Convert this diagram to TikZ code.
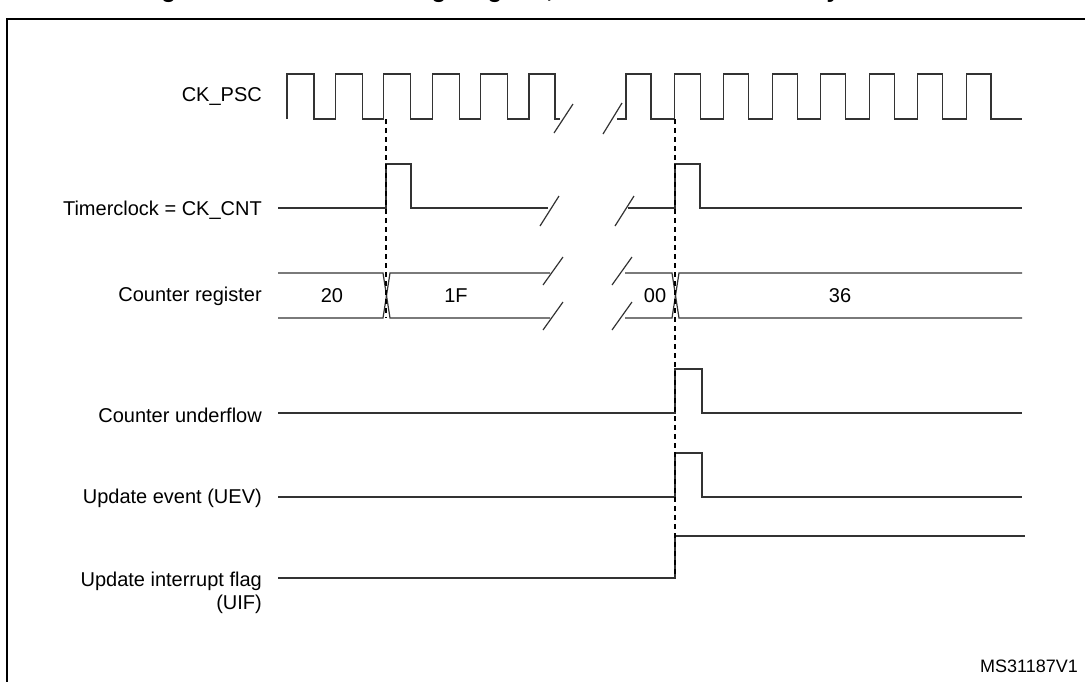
\documentclass[tikz,border=0pt]{standalone}
\usepackage{fontspec}
\setmainfont{Liberation Sans}
\begin{document}
\begin{tikzpicture}[x=1pt,y=-1pt,
  sig/.style={line width=1.2pt,black!80},
  guide/.style={line width=1.1pt,dash pattern=on 5pt off 4pt},
  lbl/.style={anchor=east,font=\fontsize{20}{23}\selectfont,inner sep=0pt},
  val/.style={font=\fontsize{20}{23}\selectfont,inner sep=0pt}]
\useasboundingbox (0,0) rectangle (1085,681);
\node[anchor=base,font=\bfseries\fontsize{24}{26}\selectfont,inner sep=0pt] (title) at (500,-3) {Figure 135. Counter timing diagram, internal clock divided by 1};
\draw[line width=2pt] (7,700) -- (7,19) -- (1100,19);
% labels
\node[lbl] (l1) at (262,97) {CK\_PSC};
\node[lbl] (l2) at (262,210) {Timerclock = CK\_CNT};
\node[lbl] (l3) at (262,296) {Counter register};
\node[lbl] (l4) at (262,415) {Counter underflow};
\node[lbl] (l5) at (262,498) {Update event (UEV)};
\node[lbl,align=right] (l6) at (262,593) {Update interrupt flag\\(UIF)};
% CK_PSC
\draw[sig] (287,119) -- (287,74)
  \foreach \x in {287,335.4,383.8,432.2,480.6}{ -- (\x+27,74) -- (\x+27,119) -- (\x+48.4,119) -- (\x+48.4,74)}
  -- (555,74) -- (555,119) -- (560,119);
\draw[sig] (554,133) -- (573,104);
\draw[sig] (603,134) -- (622,103);
\draw[sig] (617,119) -- (626,119) -- (626,74)
  \foreach \x in {626,675.2,723.7,772.2,820.7,869.2,917.7}{ -- (\x+25,74) -- (\x+25,119) -- (\x+48.5,119) -- (\x+48.5,74)}
  -- (991,74) -- (991,119) -- (1022,119);
% Timerclock
\draw[sig] (278,208) -- (386,208) -- (386,164) -- (411,164) -- (411,208) -- (548,208);
\draw[sig] (540,226) -- (559,196);
\draw[sig] (615,226) -- (634,196);
\draw[sig] (628,208) -- (675,208) -- (675,164) -- (700,164) -- (700,208) -- (1022,208);
% Counter register
\draw[sig] (278,273) -- (383,273) -- (390,318) -- (550,318);
\draw[sig] (278,318) -- (383,318) -- (390,273) -- (550,273);
\draw[sig] (543,285) -- (563,257);
\draw[sig] (543,330) -- (563,302);
\draw[sig] (612,285) -- (632,257);
\draw[sig] (612,330) -- (632,302);
\draw[sig] (625,273) -- (672,273) -- (679,318) -- (1022,318);
\draw[sig] (625,318) -- (672,318) -- (679,273) -- (1022,273);
\node[val] (v20) at (332,296) {20};
\node[val] (v1F) at (456,296) {1F};
\node[val] (v00) at (655,296) {00};
\node[val] (v36) at (840,296) {36};
% underflow / UEV
\draw[sig] (278,413) -- (675,413) -- (675,369) -- (702,369) -- (702,413) -- (1022,413);
\draw[sig] (278,497) -- (675,497) -- (675,453) -- (702,453) -- (702,497) -- (1022,497);
% UIF
\draw[sig] (278,578) -- (675,578) -- (675,536) -- (1025,536);
% dashed
\draw[guide] (386,119) -- (386,318);
\draw[guide] (675,119) -- (675,578);
\node[anchor=east,font=\fontsize{18}{20}\selectfont,inner sep=0pt] (ms) at (1078,666) {MS31187V1};
\end{tikzpicture}
\end{document}
